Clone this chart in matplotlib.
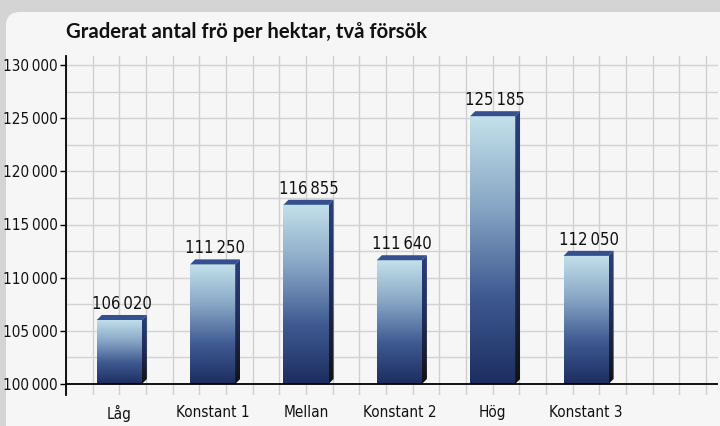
import numpy as np
import matplotlib.pyplot as plt
from matplotlib.patches import Polygon, FancyBboxPatch
from matplotlib.colors import LinearSegmentedColormap
from matplotlib import font_manager

categories = ["Låg", "Konstant 1", "Mellan", "Konstant 2", "Hög", "Konstant 3"]
values = [106020, 111250, 116855, 111640, 125185, 112050]
value_labels = ["106\u2009020", "111\u2009250", "116\u2009855", "111\u2009640", "125\u2009185", "112\u2009050"]
yticks = [100000, 105000, 110000, 115000, 120000, 125000, 130000]
ytick_labels = ["100\u2009000", "105\u2009000", "110\u2009000", "115\u2009000", "120\u2009000", "125\u2009000", "130\u2009000"]
title = "Graderat antal frö per hektar, två försök"

# condensed face to stand in for the narrow font of the original
narrow = font_manager.FontProperties(family="DejaVu Sans", stretch="condensed")

fig = plt.figure(figsize=(7.2, 4.26), dpi=100)
fig.patch.set_facecolor("#d4d4d4")
# light rounded panel behind everything
panel = FancyBboxPatch((0.06, -0.2), 7.3, 4.34, boxstyle="round,pad=0,rounding_size=0.14",
                       transform=fig.dpi_scale_trans, facecolor="#f6f6f6", edgecolor="none", zorder=-5)
fig.patches.append(panel)

fig.text(66 / 720, 1 - 32 / 426, title, fontsize=14.6, fontweight="bold", family="Lato",
         color="#111111", va="center", ha="left")

ax = fig.add_axes([66 / 720, 1 - 395 / 426, (718 - 66) / 720, (395 - 56) / 426])
ax.set_facecolor("none")
ax.set_zorder(2)

# scale: 26.67 px per x unit, 319 px per 30000
px_y = 30000 / 319
y_bot = 100000 - 11 * px_y
y_top = 130000 + 9 * px_y
x_right = (718 - 66) / 26.67

centers = [2 + 3.5 * i for i in range(len(categories))]
w = 1.69
dx = 5 / 26.67
dy = 5 * px_y

front_cmap = LinearSegmentedColormap.from_list("front", ["#1c2d60", "#3f5b92", "#88a7c6", "#c3e1ea"])
side_cmap = LinearSegmentedColormap.from_list("side", ["#121212", "#1f2c5a", "#2b3f7c"])
grad = np.linspace(0, 1, 256).reshape(-1, 1)

# grid
for gx in range(0, 25):
    ax.axvline(gx, color="#cfcfcf", lw=1, zorder=1)
for gy in np.arange(102500, 130001, 2500):
    ax.axhline(gy, color="#d2d2d2", lw=1, zorder=1)

for c, v, lab in zip(centers, values, value_labels):
    x0 = c - w / 2
    ax.imshow(grad, extent=[x0, x0 + w, 100000, v], origin="lower", aspect="auto",
              cmap=front_cmap, zorder=3, interpolation="bilinear")
    side = Polygon([(x0 + w, 100000), (x0 + w + dx, 100000 + dy), (x0 + w + dx, v + dy), (x0 + w, v)],
                   closed=True, facecolor="none", edgecolor="none")
    ax.add_patch(side)
    im = ax.imshow(grad, extent=[x0 + w, x0 + w + dx, 100000, v + dy], origin="lower", aspect="auto",
                   cmap=side_cmap, zorder=3, interpolation="bilinear")
    im.set_clip_path(side)
    top = Polygon([(x0, v), (x0 + dx, v + dy), (x0 + w + dx, v + dy), (x0 + w, v)],
                  closed=True, facecolor="#34508e", edgecolor="none", zorder=3)
    ax.add_patch(top)
    ax.text(c + dx / 2, v + dy + 2 * px_y, lab, ha="center", va="bottom", fontsize=12,
            fontproperties=narrow, color="#111111", zorder=4)

ax.axhline(100000, color="black", lw=1.3, zorder=5)

ax.set_xlim(0, x_right)
ax.set_ylim(y_bot, y_top)
ax.set_yticks(yticks)
ax.set_yticklabels(ytick_labels, fontproperties=narrow, fontsize=11, color="#111111")
ax.set_xticks(centers)
ax.set_xticklabels(categories, fontproperties=narrow, fontsize=11, color="#111111")
ax.tick_params(axis="x", length=0, pad=7)
ax.tick_params(axis="y", length=4, width=1, pad=2)

for s in ["top", "right", "bottom"]:
    ax.spines[s].set_visible(False)
ax.spines["left"].set_linewidth(1.3)
ax.spines["left"].set_zorder(5)

fig.savefig("out.png", dpi=100, facecolor=fig.get_facecolor())
